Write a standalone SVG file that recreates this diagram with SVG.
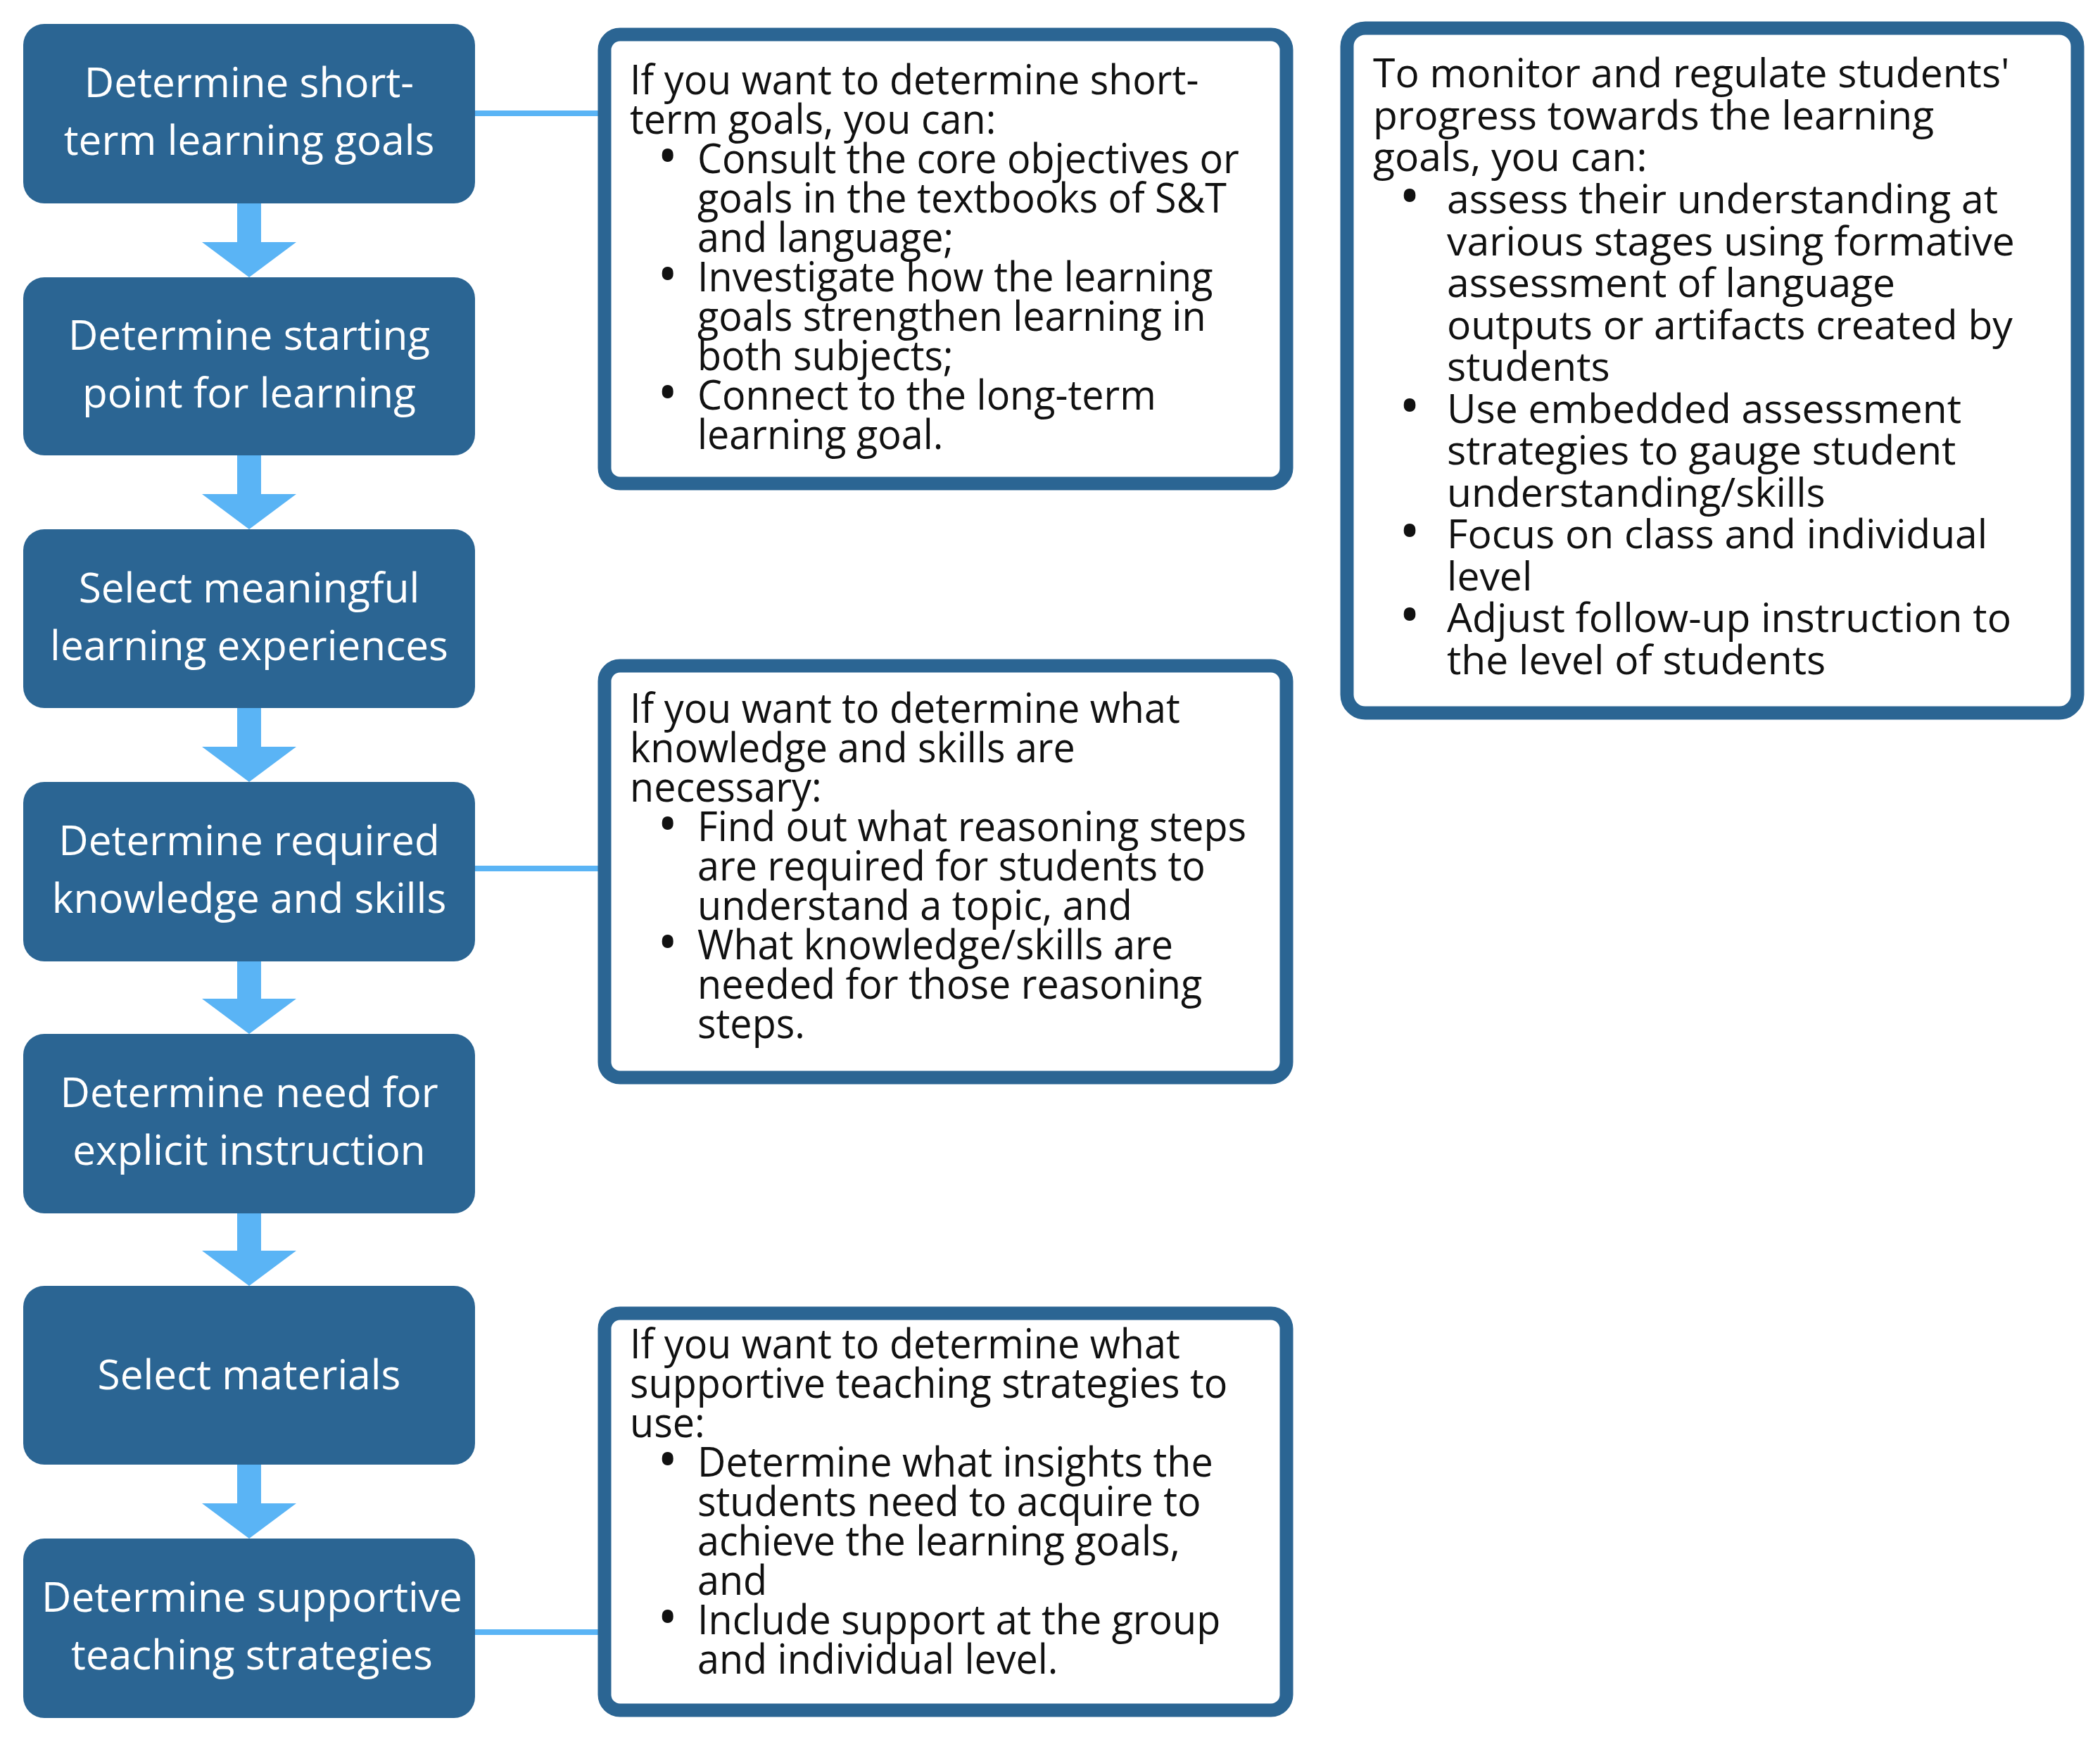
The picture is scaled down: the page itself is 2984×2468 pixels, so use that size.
<svg xmlns="http://www.w3.org/2000/svg" width="2984" height="2468" viewBox="0 0 2984 2468">
<style>
.step{fill:#2b6593}
.st{font-family:"Open Sans",sans-serif;font-size:58.5px;fill:#fff;text-anchor:middle}
.tb{fill:#fff;stroke:#2b6593;stroke-width:19}
.tt{font-family:"Open Sans",sans-serif;font-size:58px;fill:#111}
.rt{font-family:"Open Sans",sans-serif;font-size:57px;fill:#111}
.bu{font-size:80px}
.arr{fill:#5ab4f5}
.ln{stroke:#5ab4f5;stroke-width:8;fill:none}
</style>
<rect width="2984" height="2468" fill="#fff"/>
<g id="connectors">
<path class="arr" d="M337 289h34v55h50l-67 50-67-50h50z"/>
<path class="arr" d="M337 647h34v55h50l-67 50-67-50h50z"/>
<path class="arr" d="M337 1006h34v55h50l-67 50-67-50h50z"/>
<path class="arr" d="M337 1366h34v53h50l-67 50-67-50h50z"/>
<path class="arr" d="M337 1724h34v53h50l-67 50-67-50h50z"/>
<path class="arr" d="M337 2081h34v55h50l-67 50-67-50h50z"/>
<line class="ln" x1="675" y1="161" x2="850" y2="161"/>
<line class="ln" x1="675" y1="1234" x2="850" y2="1234"/>
<line class="ln" x1="675" y1="2319" x2="850" y2="2319"/>
</g>
<g id="s1"><rect class="step" x="33" y="34" width="642" height="255" rx="30"/><text class="st" x="354" y="138">Determine short-</text><text class="st" x="354" y="220">term learning goals</text></g>
<g id="s2"><rect class="step" x="33" y="394" width="642" height="253" rx="30"/><text class="st" x="354" y="497">Determine starting</text><text class="st" x="354" y="579">point for learning</text></g>
<g id="s3"><rect class="step" x="33" y="752" width="642" height="254" rx="30"/><text class="st" x="354" y="856">Select meaningful</text><text class="st" x="354" y="938">learning experiences</text></g>
<g id="s4"><rect class="step" x="33" y="1111" width="642" height="255" rx="30"/><text class="st" x="354" y="1215">Determine required</text><text class="st" x="354" y="1297">knowledge and skills</text></g>
<g id="s5"><rect class="step" x="33" y="1469" width="642" height="255" rx="30"/><text class="st" x="354" y="1573">Determine need for</text><text class="st" x="354" y="1655">explicit instruction</text></g>
<g id="s6"><rect class="step" x="33" y="1827" width="642" height="254" rx="30"/><text class="st" x="354" y="1974">Select materials</text></g>
<g id="s7"><rect class="step" x="33" y="2186" width="642" height="255" rx="30"/><text class="st" x="358" y="2290">Determine supportive</text><text class="st" x="358" y="2372">teaching strategies</text></g>

<g id="t1"><rect class="tb" x="859" y="49" width="969" height="638" rx="22"/>
<g class="tt" transform="translate(895,0) scale(0.96,1)">
<text x="0" y="134">If you want to determine short-</text>
<text x="0" y="190">term goals, you can:</text>
<text class="bu" x="41" y="250">•</text><text x="100" y="246">Consult the core objectives or</text>
<text x="100" y="302">goals in the textbooks of S&amp;T</text>
<text x="100" y="358">and language;</text>
<text class="bu" x="41" y="418">•</text><text x="100" y="414">Investigate how the learning</text>
<text x="100" y="470">goals strengthen learning in</text>
<text x="100" y="526">both subjects;</text>
<text class="bu" x="41" y="586">•</text><text x="100" y="582">Connect to the long-term</text>
<text x="100" y="638">learning goal.</text>
</g></g>

<g id="t2"><rect class="tb" x="859" y="946" width="969" height="585" rx="22"/>
<g class="tt" transform="translate(895,0) scale(0.96,1)">
<text x="0" y="1027">If you want to determine what</text>
<text x="0" y="1083">knowledge and skills are</text>
<text x="0" y="1139">necessary:</text>
<text class="bu" x="41" y="1199">•</text><text x="100" y="1195">Find out what reasoning steps</text>
<text x="100" y="1251">are required for students to</text>
<text x="100" y="1307">understand a topic, and</text>
<text class="bu" x="41" y="1367">•</text><text x="100" y="1363">What knowledge/skills are</text>
<text x="100" y="1419">needed for those reasoning</text>
<text x="100" y="1475">steps.</text>
</g></g>

<g id="t3"><rect class="tb" x="859" y="1866" width="969" height="564" rx="22"/>
<g class="tt" transform="translate(895,0) scale(0.96,1)">
<text x="0" y="1930">If you want to determine what</text>
<text x="0" y="1986">supportive teaching strategies to</text>
<text x="0" y="2042">use:</text>
<text class="bu" x="41" y="2102">•</text><text x="100" y="2098">Determine what insights the</text>
<text x="100" y="2154">students need to acquire to</text>
<text x="100" y="2210">achieve the learning goals,</text>
<text x="100" y="2266">and</text>
<text class="bu" x="41" y="2326">•</text><text x="100" y="2322">Include support at the group</text>
<text x="100" y="2378">and individual level.</text>
</g></g>

<g id="t4"><rect class="tb" x="1914" y="40" width="1038" height="973" rx="26"/>
<g class="rt">
<text x="1951" y="124">To monitor and regulate students'</text>
<text x="1951" y="184">progress towards the learning</text>
<text x="1951" y="243">goals, you can:</text>
<text class="bu" x="1988" y="307">•</text><text x="2056" y="303">assess their understanding at</text>
<text x="2056" y="363">various stages using formative</text>
<text x="2056" y="422">assessment of language</text>
<text x="2056" y="482">outputs or artifacts created by</text>
<text x="2056" y="541">students</text>
<text class="bu" x="1988" y="605">•</text><text x="2056" y="601">Use embedded assessment</text>
<text x="2056" y="660">strategies to gauge student</text>
<text x="2056" y="720">understanding/skills</text>
<text class="bu" x="1988" y="783">•</text><text x="2056" y="779">Focus on class and individual</text>
<text x="2056" y="839">level</text>
<text class="bu" x="1988" y="902">•</text><text x="2056" y="898">Adjust follow-up instruction to</text>
<text x="2056" y="958">the level of students</text>
</g></g>
</svg>
